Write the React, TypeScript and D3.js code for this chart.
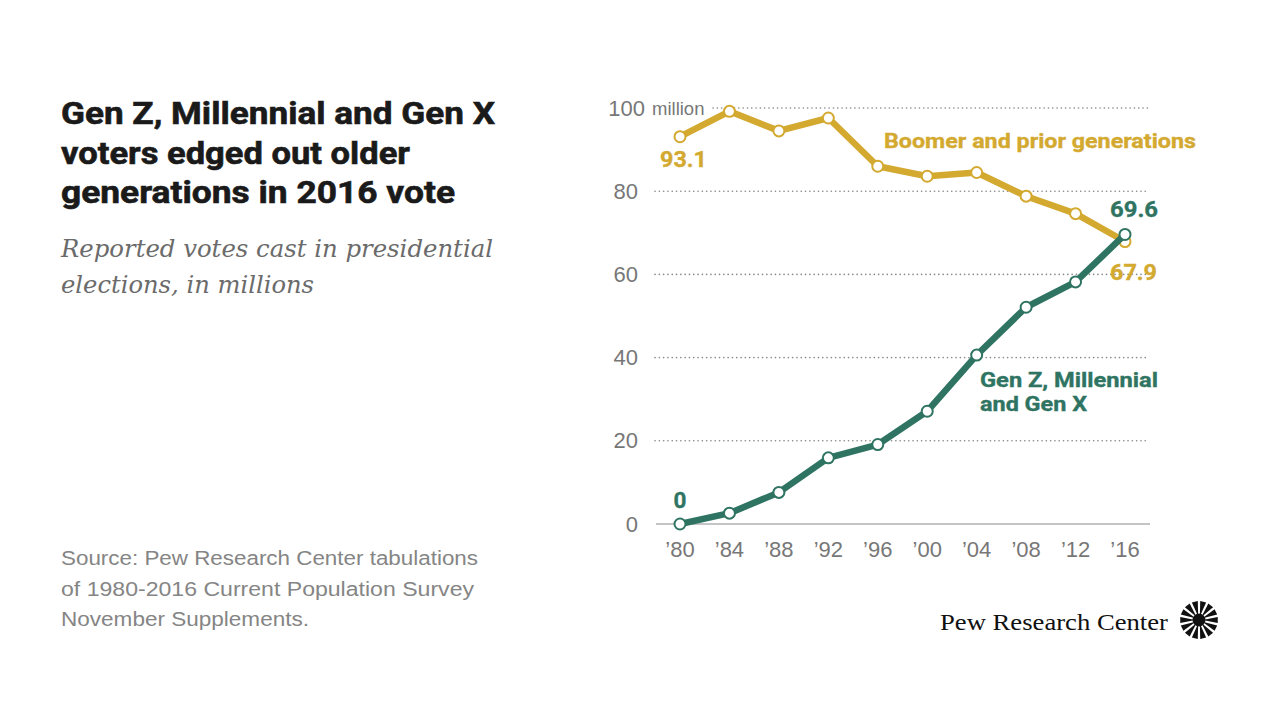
import React from "react";
import * as d3 from "d3";

const years = [1980, 1984, 1988, 1992, 1996, 2000, 2004, 2008, 2012, 2016];
const boomerVotes = [93.1, 99.2, 94.5, 97.6, 86.0, 83.6, 84.5, 78.8, 74.6, 67.9];
const genZMXVotes = [0, 2.6, 7.6, 15.9, 19.1, 27.1, 40.6, 52.1, 58.2, 69.6];
const yTicks = [0, 20, 40, 60, 80, 100];
const xTickLabels = ["’80", "’84", "’88", "’92", "’96", "’00", "’04", "’08", "’12", "’16"];

const titleLines = [
  { text: "Gen Z, Millennial and Gen X", w: 434 },
  { text: "voters edged out older", w: 349 },
  { text: "generations in 2016 vote", w: 394 },
];
const subtitleLines = [
  { text: "Reported votes cast in presidential", w: 432 },
  { text: "elections, in millions", w: 253 },
];
const sourceLines = [
  { text: "Source: Pew Research Center tabulations", w: 417 },
  { text: "of 1980-2016 Current Population Survey", w: 413 },
  { text: "November Supplements.", w: 248 },
];

const GOLD = "#D3A930";
const GREEN = "#2F7462";
const GRAY = "#777777";

export default function App() {
  const x = d3.scaleLinear().domain([1980, 2016]).range([680, 1125]);
  const y = d3.scaleLinear().domain([0, 100]).range([524, 108]);
  const line = d3
    .line<number>()
    .x((_, i) => x(years[i]))
    .y((d) => y(d));

  const logoCx = 1199;
  const logoCy = 620;
  const rays = d3.range(14);

  return (
    <svg
      width={1280}
      height={720}
      style={{ position: "absolute", left: 0, top: 0, background: "#fff" }}
    >
      <rect width={1280} height={720} fill="#fff" />
      {/* Title */}
      {titleLines.map((l, i) => (
        <text
          key={l.text}
          x={61}
          y={124 + i * 39.5}
          fontFamily="Roboto, 'Liberation Sans', sans-serif"
          fontWeight={700}
          fontSize={31}
          fill="#1a1a1a"
          stroke="#1a1a1a"
          strokeWidth={0.6}
          textLength={l.w}
          lengthAdjust="spacingAndGlyphs"
        >
          {l.text}
        </text>
      ))}
      {/* Subtitle */}
      {subtitleLines.map((l, i) => (
        <text
          key={l.text}
          x={61}
          y={257 + i * 36}
          fontFamily="'DejaVu Serif', Georgia, serif"
          fontStyle="italic"
          fontSize={25}
          fill="#6b6b6b"
          textLength={l.w}
          lengthAdjust="spacingAndGlyphs"
        >
          {l.text}
        </text>
      ))}
      {/* Source */}
      {sourceLines.map((l, i) => (
        <text
          key={l.text}
          x={61}
          y={565 + i * 30.5}
          fontFamily="'Liberation Sans', Arial, sans-serif"
          fontSize={19.5}
          fill="#858585"
          textLength={l.w}
          lengthAdjust="spacingAndGlyphs"
        >
          {l.text}
        </text>
      ))}

      {/* Gridlines */}
      {yTicks.map((t) =>
        t === 0 ? (
          <line key={t} x1={656} x2={1150} y1={y(t)} y2={y(t)} stroke="#8a8a8a" strokeWidth={1} />
        ) : (
          <line
            key={t}
            x1={t === 100 ? 713 : 655}
            x2={1148}
            y1={y(t)}
            y2={y(t)}
            stroke="#8a8a8a"
            strokeWidth={1.6}
            strokeDasharray="0.1,4.2"
            strokeLinecap="round"
          />
        )
      )}
      {/* Y tick labels */}
      {yTicks.map((t) => (
        <text
          key={t}
          x={t === 100 ? 645 : 638}
          y={y(t) + 7.5}
          textAnchor="end"
          fontFamily="'Liberation Sans', Arial, sans-serif"
          fontSize={22}
          fill={GRAY}
        >
          {t}
        </text>
      ))}
      <text
        x={652}
        y={y(100) + 7}
        fontFamily="'Liberation Sans', Arial, sans-serif"
        fontSize={18.5}
        fill={GRAY}
      >
        million
      </text>
      {/* X tick labels */}
      {years.map((yr, i) => (
        <text
          key={yr}
          x={x(yr)}
          y={557}
          textAnchor="middle"
          fontFamily="'Liberation Sans', Arial, sans-serif"
          fontSize={22}
          fill={GRAY}
        >
          {xTickLabels[i]}
        </text>
      ))}

      {/* Boomer line */}
      <path d={line(boomerVotes) || ""} fill="none" stroke={GOLD} strokeWidth={6.5} strokeLinejoin="round" />
      {boomerVotes.map((v, i) => (
        <circle key={"b" + i} cx={x(years[i])} cy={y(v)} r={5.5} fill="#fff" stroke={GOLD} strokeWidth={2} />
      ))}
      {/* Gen Z line */}
      <path d={line(genZMXVotes) || ""} fill="none" stroke={GREEN} strokeWidth={6.5} strokeLinejoin="round" />
      {genZMXVotes.map((v, i) => (
        <circle key={"g" + i} cx={x(years[i])} cy={y(v)} r={5.5} fill="#fff" stroke={GREEN} strokeWidth={2} />
      ))}

      {/* Labels */}
      <g fontFamily="Roboto, 'Liberation Sans', sans-serif" fontWeight={700} fontSize={20} strokeWidth={0.35}>
        <text x={884} y={148} fill={GOLD} stroke={GOLD} textLength={312} lengthAdjust="spacingAndGlyphs">
          Boomer and prior generations
        </text>
        <text x={660} y={167} fill={GOLD} stroke={GOLD} fontSize={22.5} textLength={47} lengthAdjust="spacingAndGlyphs">
          {boomerVotes[0].toFixed(1)}
        </text>
        <text x={1110} y={217} fill={GREEN} stroke={GREEN} fontSize={22.5} textLength={48} lengthAdjust="spacingAndGlyphs">
          {genZMXVotes[9].toFixed(1)}
        </text>
        <text x={1110} y={280} fill={GOLD} stroke={GOLD} fontSize={22.5} textLength={47} lengthAdjust="spacingAndGlyphs">
          {boomerVotes[9].toFixed(1)}
        </text>
        <text x={680} y={508} fill={GREEN} stroke={GREEN} fontSize={22.5} textAnchor="middle">
          {genZMXVotes[0]}
        </text>
        <text x={980} y={387} fill={GREEN} stroke={GREEN} textLength={178} lengthAdjust="spacingAndGlyphs">
          Gen Z, Millennial
        </text>
        <text x={980} y={411} fill={GREEN} stroke={GREEN} textLength={107} lengthAdjust="spacingAndGlyphs">
          and Gen X
        </text>
      </g>

      {/* Pew logo */}
      <text
        x={940}
        y={630}
        fontFamily="'Liberation Serif', 'DejaVu Serif', serif"
        fontSize={24}
        fill="#111"
        textLength={228}
        lengthAdjust="spacingAndGlyphs"
      >
        Pew Research Center
      </text>
      <g transform={`translate(${logoCx},${logoCy})`}>
        {rays.map((i) => {
          const a = (i / rays.length) * Math.PI * 2;
          const w = 0.16;
          const r0 = 5;
          const r1 = 19;
          const p = [
            [Math.cos(a - w * 0.3) * r0, Math.sin(a - w * 0.3) * r0],
            [Math.cos(a - w) * r1, Math.sin(a - w) * r1],
            [Math.cos(a + w) * r1, Math.sin(a + w) * r1],
            [Math.cos(a + w * 0.3) * r0, Math.sin(a + w * 0.3) * r0],
          ];
          return <path key={i} d={`M${p.map((q) => q.join(",")).join("L")}Z`} fill="#111" />;
        })}
        <circle r={6.5} fill="#111" />
      </g>
    </svg>
  );
}
